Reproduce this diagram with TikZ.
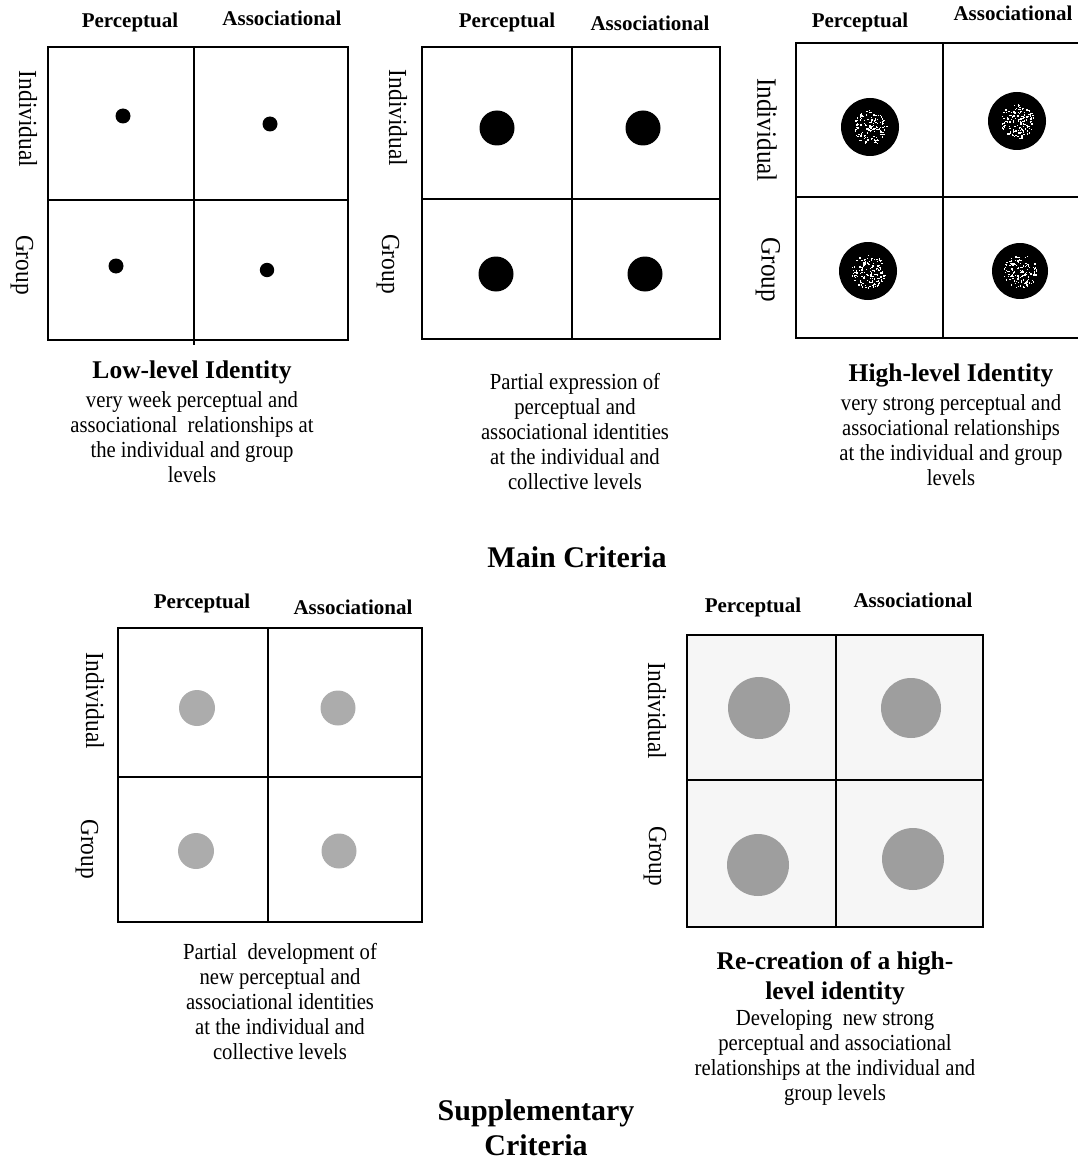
\documentclass[tikz,border=0pt]{standalone}
\usepackage{fontspec}
\setmainfont{Liberation Serif}[FakeStretch=0.9,BoldFeatures={FakeStretch=1.0}]
\definecolor{softdot}{RGB}{172,172,172}
\definecolor{middot}{RGB}{158,158,158}
\definecolor{paper}{RGB}{246,246,246}
\begin{document}
\begin{tikzpicture}[x=1pt,y=-1pt,
  hdr/.style={font=\fontsize{21}{24}\selectfont\bfseries, inner sep=0, anchor=base},
  side/.style={font=\fontsize{26}{28}\selectfont, rotate=-90, inner sep=0},
  sidebig/.style={font=\fontsize{28}{30}\selectfont, rotate=-90, inner sep=0},
  ttl/.style={font=\fontsize{25.5}{30}\selectfont\bfseries, inner sep=0, anchor=base},
  ttlmulti/.style={font=\fontsize{25.5}{30}\selectfont\bfseries, inner sep=0, anchor=north, align=center},
  body/.style={font=\fontsize{23}{25}\selectfont, inner sep=0, anchor=north, align=center},
  section/.style={font=\fontsize{30}{35}\selectfont\bfseries, inner sep=0, align=center},
  frame/.style={line width=2pt, line cap=square},
  framethin/.style={line width=1.8pt, line cap=square},
  tinydot/.style={fill=black},
  inkdot/.style={fill=black},
  greydot/.style={fill=softdot},
  bigdot/.style={fill=middot},
]
\useasboundingbox (0,0) rectangle (1078,1161);

% ---------------- Low-level identity ----------------
\draw[frame] (48,47) rectangle (348,340);
\draw[frame] (194,47) -- (194,345);
\draw[frame] (48,200) -- (348,200);
\node[hdr] (p1h1) at (130,28) {Perceptual};
\node[hdr] (p1h2) at (282,26) {Associational};
\node[side] (p1s1) at (28,119) {Individual};
\node[side] (p1s2) at (22,265) {Group};
\fill[tinydot] (123,116) circle[radius=7.5];
\fill[tinydot] (270,124) circle[radius=7.5];
\fill[tinydot] (116,266) circle[radius=7.5];
\fill[tinydot] (267,270) circle[radius=7.2];
\node[ttl] (p1t) at (192,378) {Low-level Identity};
\node[body] (p1b) at (192,389) {\rule{0pt}{18pt}very week perceptual and\\associational\ \ relationships at\\the individual and group\\levels};

% ---------------- Partial expression ----------------
\draw[frame] (422,47) rectangle (720,339);
\draw[frame] (572,47) -- (572,339);
\draw[frame] (422,199) -- (720,199);
\node[hdr] (p2h1) at (507,28) {Perceptual};
\node[hdr] (p2h2) at (650,31) {Associational};
\node[side] (p2s1) at (398,118) {Individual};
\node[side] (p2s2) at (388,264) {Group};
\fill[inkdot] (497,128) circle[radius=17.5];
\fill[inkdot] (643,128) circle[radius=17.5];
\fill[inkdot] (496,274) circle[radius=17.5];
\fill[inkdot] (645,274) circle[radius=17.5];
\node[body] (p2b) at (575,371) {\rule{0pt}{18pt}Partial expression of\\perceptual and\\associational identities\\at the individual and\\collective levels};

% ---------------- High-level identity ----------------
\draw[frame] (1078,43) -- (796,43) -- (796,338) -- (1078,338);
\draw[frame] (943,43) -- (943,338);
\draw[frame] (796,197) -- (1078,197);
\node[hdr] (p3h1) at (860,28) {Perceptual};
\node[hdr] (p3h2) at (1013,21) {Associational};
\node[sidebig] (p3s1) at (767,130) {Individual};
\node[sidebig] (p3s2) at (768,270) {Group};
\pgfmathsetseed{4242}
\foreach \cx/\cy/\r in {870/127/29, 1017/121/29, 868/271/29, 1020/271/28}{
  \fill[inkdot] (\cx,\cy) circle[radius=\r];
  \foreach \k in {1,...,140}{
    \pgfmathsetmacro{\ang}{360*rnd}
    \pgfmathsetmacro{\rad}{17*sqrt(rnd)}
    \fill[white] ([shift={(\ang:\rad)}]\cx,\cy) rectangle ++(1.3,1.3);
  }
}
\node[ttl] (p3t) at (951,381) {High-level Identity};
\node[body] (p3b) at (951,392) {\rule{0pt}{18pt}very strong perceptual and\\associational relationships\\at the individual and group\\levels};

\node[section, anchor=base] (mainc) at (577,567) {Main Criteria};

% ---------------- Partial development ----------------
\draw[framethin] (118,628) rectangle (422,922);
\draw[framethin] (268,628) -- (268,922);
\draw[framethin] (118,777) -- (422,777);
\node[hdr] (p4h1) at (202,608) {Perceptual};
\node[hdr] (p4h2) at (353,614) {Associational};
\node[side] (p4s1) at (95,701) {Individual};
\node[side] (p4s2) at (87,849) {Group};
\fill[greydot] (197,708) circle[radius=18];
\fill[greydot] (338,708) circle[radius=17.5];
\fill[greydot] (196,851) circle[radius=18];
\fill[greydot] (339,851) circle[radius=17.5];
\node[body] (p4b) at (280,941) {\rule{0pt}{18pt}Partial\ \ development of\\new perceptual and\\associational identities\\at the individual and\\collective levels};

% ---------------- Re-creation ----------------
\fill[paper] (687,635) rectangle (983,927);
\draw[framethin] (687,635) rectangle (983,927);
\draw[framethin] (836,635) -- (836,927);
\draw[framethin] (687,780) -- (983,780);
\node[hdr] (p5h1) at (753,612) {Perceptual};
\node[hdr] (p5h2) at (913,607) {Associational};
\node[side] (p5s1) at (657,711) {Individual};
\node[side] (p5s2) at (655,856) {Group};
\fill[bigdot] (759,708) circle[radius=31];
\fill[bigdot] (911,708) circle[radius=30];
\fill[bigdot] (758,865) circle[radius=31];
\fill[bigdot] (913,859) circle[radius=31];
\node[ttlmulti] (p5t) at (835,950) {\rule{0pt}{19pt}Re-creation of a high-\\level identity};
\node[body] (p5b) at (835,1007) {\rule{0pt}{18pt}Developing\ \ new strong\\perceptual and associational\\relationships at the individual and\\group levels};

\node[section, anchor=north] (suppc) at (536,1096) {\rule{0pt}{24pt}Supplementary\\Criteria};
\end{tikzpicture}
\end{document}
